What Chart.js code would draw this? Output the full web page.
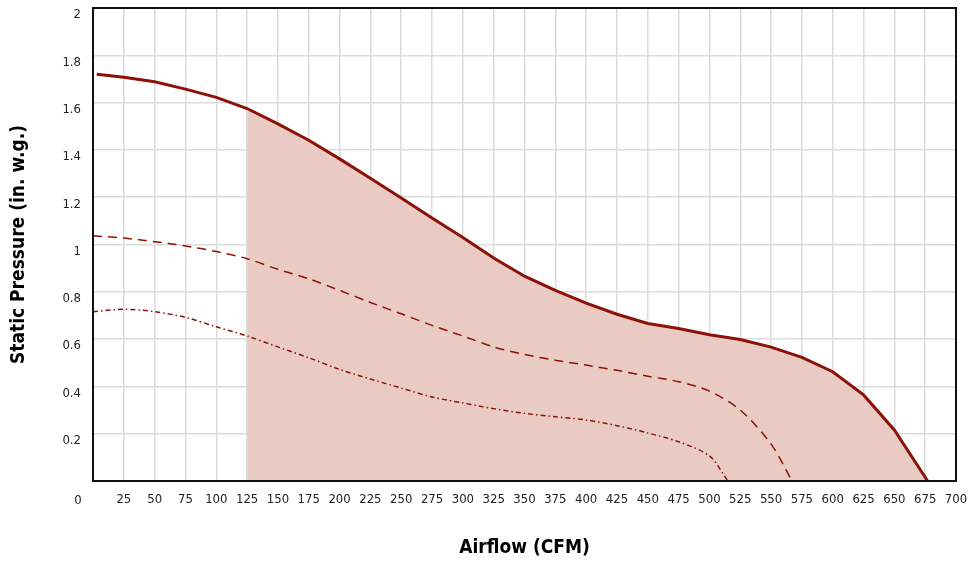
<!DOCTYPE html>
<html>
<head>
<meta charset="utf-8">
<script src="https://cdn.jsdelivr.net/npm/chart.js@4"></script>
<style>
  html, body { margin: 0; padding: 0; background: #ffffff; }
  #wrap { width: 971px; height: 563px; }
</style>
</head>
<body>
<div id="wrap"><canvas id="c" width="971" height="563"></canvas></div>
<script>
// ---- data ----
const airflowMax   = [3, 25, 50, 75, 100, 125, 150, 175, 200, 225, 250, 275, 300, 325, 350, 375, 400, 425, 450, 475, 500, 525, 550, 575, 600, 625, 650, 677];
const pressureMax  = [1.72, 1.707, 1.688, 1.657, 1.622, 1.575, 1.51, 1.441, 1.362, 1.28, 1.197, 1.112, 1.03, 0.943, 0.866, 0.806, 0.752, 0.705, 0.666, 0.645, 0.618, 0.598, 0.566, 0.523, 0.462, 0.364, 0.216, 0];

const airflowMid   = [0, 25, 50, 75, 100, 125, 150, 175, 200, 225, 250, 275, 300, 325, 350, 375, 400, 425, 450, 475, 500, 525, 550, 567];
const pressureMid  = [1.037, 1.027, 1.012, 0.994, 0.97, 0.94, 0.895, 0.855, 0.806, 0.755, 0.707, 0.658, 0.613, 0.567, 0.535, 0.511, 0.49, 0.468, 0.443, 0.42, 0.38, 0.3, 0.156, 0];

const airflowLow   = [0, 25, 50, 75, 100, 125, 150, 175, 200, 225, 250, 275, 300, 325, 350, 375, 400, 425, 450, 475, 500, 515];
const pressureLow  = [0.716, 0.726, 0.716, 0.692, 0.652, 0.613, 0.567, 0.521, 0.472, 0.431, 0.393, 0.355, 0.33, 0.306, 0.286, 0.272, 0.258, 0.234, 0.203, 0.166, 0.106, 0];

const shadeStart   = 125;   // operating range begins here
const xTickStep    = 25;
const yTickStep    = 0.2;
const xMax         = 700;
const yMax         = 2;

const xTitle = 'Airflow (CFM)';
const yTitle = 'Static Pressure (in. w.g.)';

// ---- styles ----
const RED   = '#8c1106';
const SHADE = '#e9cbc3';
const GRID  = '#dcdcdc';
const FONT  = "'Liberation Sans Narrow', 'DejaVu Sans Condensed', sans-serif";

const toPts = (xs, ys) => xs.map((x, i) => ({ x: x, y: ys[i] }));
const maxPts = toPts(airflowMax, pressureMax);
const shadePts = maxPts.filter(p => p.x >= shadeStart);

const zeroPad = s => { s.paddingTop = 0; s.paddingBottom = 0; s.paddingLeft = 0; s.paddingRight = 0; };

const framePlugin = {
  id: 'frame',
  afterDraw(chart) {
    const { ctx, chartArea: a, scales } = chart;
    ctx.save();
    ctx.strokeStyle = '#111';
    ctx.lineWidth = 2;
    ctx.strokeRect(a.left, a.top, a.right - a.left, a.bottom - a.top);
    // shared origin label "0", placed left of the axis corner
    ctx.fillStyle = '#222';
    ctx.font = "13px " + FONT;
    ctx.textAlign = 'center';
    ctx.textBaseline = 'middle';
    ctx.fillText('0', scales.x.getPixelForValue(0) - 15, a.bottom + 19.5);
    ctx.restore();
  }
};

new Chart(document.getElementById('c'), {
  type: 'line',
  data: {
    datasets: [
      {
        label: 'shade',
        data: shadePts,
        borderWidth: 0,
        borderColor: 'rgba(0,0,0,0)',
        backgroundColor: SHADE,
        fill: 'origin',
        pointRadius: 0,
        tension: 0,
        order: 3
      },
      {
        label: 'max',
        data: maxPts,
        borderColor: RED,
        borderWidth: 3,
        fill: false,
        pointRadius: 0,
        tension: 0,
        order: 0
      },
      {
        label: 'mid',
        data: toPts(airflowMid, pressureMid),
        borderColor: RED,
        borderWidth: 1.5,
        borderDash: [9, 6],
        fill: false,
        pointRadius: 0,
        tension: 0.3,
        order: 1
      },
      {
        label: 'low',
        data: toPts(airflowLow, pressureLow),
        borderColor: RED,
        borderWidth: 1.5,
        borderDash: [5, 3, 1.5, 3],
        fill: false,
        pointRadius: 0,
        tension: 0.3,
        order: 2
      }
    ]
  },
  options: {
    responsive: false,
    animation: false,
    layout: { padding: { left: 0, right: 15, top: 8, bottom: 0 } },
    plugins: { legend: { display: false }, tooltip: { enabled: false } },
    scales: {
      x: {
        type: 'linear',
        min: 0, max: xMax,
        grid: { color: GRID, lineWidth: 1.5, drawTicks: false },
        border: { display: false },
        ticks: {
          stepSize: xTickStep,
          autoSkip: false,
          maxRotation: 0,
          padding: 11,
          color: '#222',
          font: { family: FONT, size: 13 },
          callback: v => (v === 0 ? '' : String(v))
        },
        title: {
          display: true,
          text: xTitle,
          color: '#000',
          font: { family: FONT, size: 19, weight: 'bold' },
          padding: { top: 0, bottom: 4 }
        },
        afterFit: s => { s.height = 82; zeroPad(s); }
      },
      y: {
        type: 'linear',
        min: 0, max: yMax,
        grid: { color: GRID, lineWidth: 1.5, drawTicks: false },
        border: { display: false },
        ticks: {
          stepSize: yTickStep,
          padding: 12,
          labelOffset: 7,
          color: '#222',
          font: { family: FONT, size: 13 },
          callback: v => (v === 0 ? '' : String(Math.round(v * 10) / 10))
        },
        title: {
          display: true,
          text: yTitle,
          color: '#000',
          font: { family: FONT, size: 19, weight: 'bold' },
          padding: { top: 8, bottom: 0 }
        },
        afterFit: s => { s.width = 93; zeroPad(s); }
      }
    }
  },
  plugins: [framePlugin]
});
</script>
</body>
</html>
